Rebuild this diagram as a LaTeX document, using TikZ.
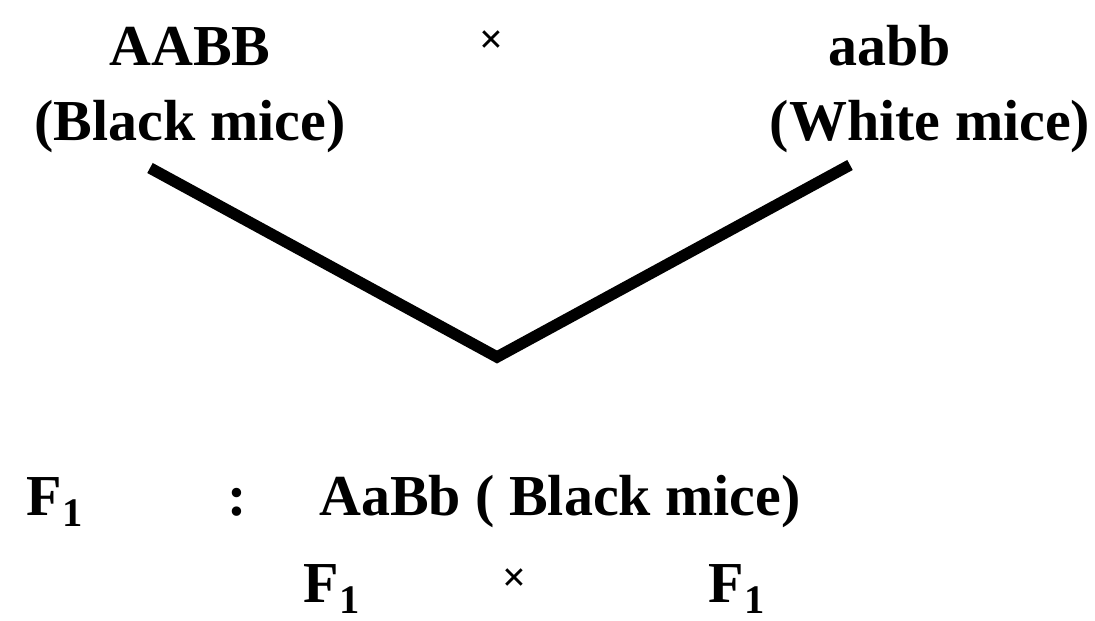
\documentclass[tikz,border=0pt]{standalone}
\usepackage{fontspec}
\setmainfont{Liberation Serif}
\begin{document}
\begin{tikzpicture}[x=0.02cm,y=0.02cm,every node/.style={font=\bfseries\fontsize{33}{40}\selectfont,inner sep=0pt,anchor=base},
  crosssign/.style={font=\bfseries\fontsize{24}{28}\selectfont}]
\useasboundingbox (0,0) rectangle (1095,620);
% parents
\node (pblack) at (190,555) {AABB}; \node (lblack) at (190,480) {(Black mice)};
\node[crosssign] (x1) at (492,566) {×};
\node (pwhite) at (890,555) {aabb}; \node (lwhite) at (930,480) {(White mice)};
% cross lines
\coordinate (cl) at (150,452); \coordinate (apex) at (497,263); \coordinate (cr) at (850,455);
\draw[line width=6.5pt,line join=miter] (cl)--(apex)--(cr);
% F1 generation
\node (f1) at (55,105) {F\textsubscript{1}}; \node (colon) at (237,105) {:};
\node (f1geno) at (560,105) {AaBb ( Black mice)};
\node (f1a) at (332,18) {F\textsubscript{1}}; \node[crosssign] (x2) at (515,29) {×}; \node (f1b) at (737,18) {F\textsubscript{1}};
\end{tikzpicture}
\end{document}
